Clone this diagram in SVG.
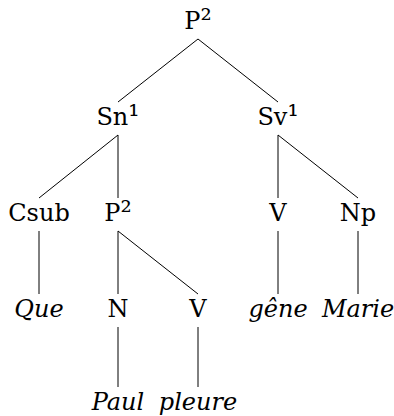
<svg xmlns="http://www.w3.org/2000/svg" width="394" height="416" viewBox="0 0 394 416">
  <style>
    .lbl { font-family: 'DejaVu Serif', serif; font-size: 24px; fill: #000; text-anchor: middle; }
    .leaf { font-style: italic; }
    .sup { font-size: 28px; }
    .edges line { stroke: #000; stroke-width: 1; fill: none; }
  </style>
  <rect width="394" height="416" fill="#fff"/>

  <!-- tree branches -->
  <g class="edges">
    <line x1="198" y1="39" x2="118" y2="102"/>
    <line x1="198" y1="39" x2="278" y2="102"/>
    <line x1="118" y1="135" x2="39" y2="198"/>
    <line x1="118" y1="135" x2="118" y2="198"/>
    <line x1="278" y1="135" x2="278" y2="198"/>
    <line x1="278" y1="135" x2="358" y2="198"/>
    <line x1="39" y1="231" x2="39" y2="294"/>
    <line x1="118" y1="231" x2="118" y2="294"/>
    <line x1="118" y1="231" x2="198" y2="294"/>
    <line x1="278" y1="231" x2="278" y2="294"/>
    <line x1="358" y1="231" x2="358" y2="294"/>
    <line x1="118" y1="327" x2="118" y2="387"/>
    <line x1="198" y1="327" x2="198" y2="387"/>
  </g>

  <!-- level 0 -->
  <g id="root-P2"><text class="lbl" x="198" y="29">P<tspan class="sup">²</tspan></text></g>

  <!-- level 1 -->
  <g id="Sn1"><text class="lbl" x="118" y="125">Sn<tspan class="sup">¹</tspan></text></g>
  <g id="Sv1"><text class="lbl" x="278" y="125">Sv<tspan class="sup">¹</tspan></text></g>

  <!-- level 2 -->
  <g id="Csub"><text class="lbl" x="39" y="221">Csub</text></g>
  <g id="P2-sub"><text class="lbl" x="118" y="221">P<tspan class="sup">²</tspan></text></g>
  <g id="V-main"><text class="lbl" x="278" y="221">V</text></g>
  <g id="Np"><text class="lbl" x="358" y="221">Np</text></g>

  <!-- level 3 -->
  <g id="Que"><text class="lbl leaf" x="39" y="317">Que</text></g>
  <g id="N"><text class="lbl" x="118" y="317">N</text></g>
  <g id="V-sub"><text class="lbl" x="198" y="317">V</text></g>
  <g id="gene"><text class="lbl leaf" x="278" y="317">gêne</text></g>
  <g id="Marie"><text class="lbl leaf" x="358" y="317">Marie</text></g>

  <!-- level 4 -->
  <g id="Paul"><text class="lbl leaf" x="118" y="410">Paul</text></g>
  <g id="pleure"><text class="lbl leaf" x="198" y="410">pleure</text></g>
</svg>
